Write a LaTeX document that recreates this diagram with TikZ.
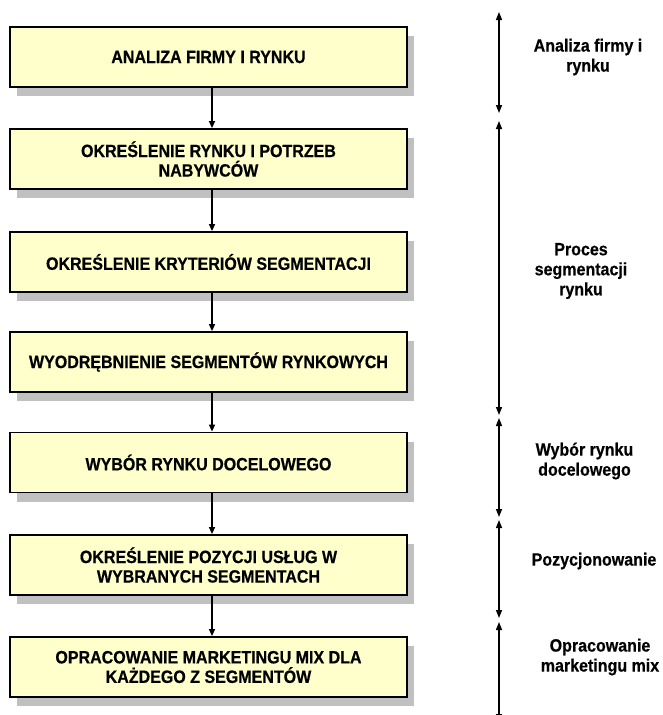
\documentclass[tikz,border=0pt]{standalone}
\usepackage{fontspec}
\setmainfont{Liberation Sans}[FakeStretch=0.9, BoldFeatures={FakeBold=0.5}]
\usetikzlibrary{arrows.meta,shadows}
\definecolor{boxfill}{HTML}{FFFFCC}
\definecolor{shadowgray}{HTML}{C0C0C0}
\tikzset{
  stepbox/.style={draw=black, line width=1.8pt, fill=boxfill,
    minimum width=397pt, minimum height=60pt, align=center, inner sep=2pt,
    font=\bfseries\fontsize{17.8}{19.5}\selectfont,
    drop shadow={shadow xshift=7pt, shadow yshift=-9pt, fill=shadowgray, opacity=1}},
  flow/.style={line width=1.4pt, -{Triangle[width=6pt,length=7pt]}},
  span/.style={line width=1.4pt, {Triangle[width=6pt,length=8pt]}-{Triangle[width=6pt,length=8pt]}},
  phase/.style={align=center, font=\bfseries\fontsize{17.8}{20}\selectfont, inner sep=0pt}
}
\begin{document}
\begin{tikzpicture}[x=1pt,y=-1pt]
\useasboundingbox (0,0) rectangle (662,715);
\clip (0,0) rectangle (662,715);
% main boxes
\node[stepbox] (b1) at (208.5,57) {ANALIZA FIRMY I RYNKU};
\node[stepbox] (b2) at (208.5,159) {OKREŚLENIE RYNKU I POTRZEB\\NABYWCÓW};
\node[stepbox] (b3) at (208.5,262) {OKREŚLENIE KRYTERIÓW SEGMENTACJI};
\node[stepbox] (b4) at (208.5,362) {WYODRĘBNIENIE SEGMENTÓW RYNKOWYCH};
\node[stepbox] (b5) at (208.5,462.5) {WYBÓR RYNKU DOCELOWEGO};
\node[stepbox] (b6) at (208.5,565) {OKREŚLENIE POZYCJI USŁUG W\\WYBRANYCH SEGMENTACH};
\node[stepbox] (b7) at (208.5,667) {OPRACOWANIE MARKETINGU MIX DLA\\KAŻDEGO Z SEGMENTÓW};
% connectors
\foreach \a/\b in {b1/b2,b2/b3,b3/b4,b4/b5,b5/b6,b6/b7}
  \draw[flow] ([xshift=3.5pt]\a.south) -- ([xshift=3.5pt]\b.north);
% right-hand spans
\coordinate (s1a) at (499,12);
\coordinate (s1b) at (499,113);
\coordinate (s2a) at (499,121);
\coordinate (s2b) at (499,415);
\coordinate (s3a) at (499,418);
\coordinate (s3b) at (499,517);
\coordinate (s4a) at (499,520);
\coordinate (s4b) at (499,618);
\coordinate (s5a) at (499,622);
\coordinate (s5b) at (499,722);
\draw[span] (s1a) -- (s1b);
\draw[span] (s2a) -- (s2b);
\draw[span] (s3a) -- (s3b);
\draw[span] (s4a) -- (s4b);
\draw[span] (s5a) -- (s5b);
% phase labels
\node[phase] (p1) at (588,57) {Analiza firmy i\\rynku};
\node[phase] (p2) at (581,271) {Proces\\segmentacji\\rynku};
\node[phase] (p3) at (584.5,461) {Wybór rynku\\docelowego};
\node[phase] (p4) at (594,561) {Pozycjonowanie};
\node[phase] (p5) at (600,657) {Opracowanie\\marketingu mix};
\end{tikzpicture}
\end{document}
